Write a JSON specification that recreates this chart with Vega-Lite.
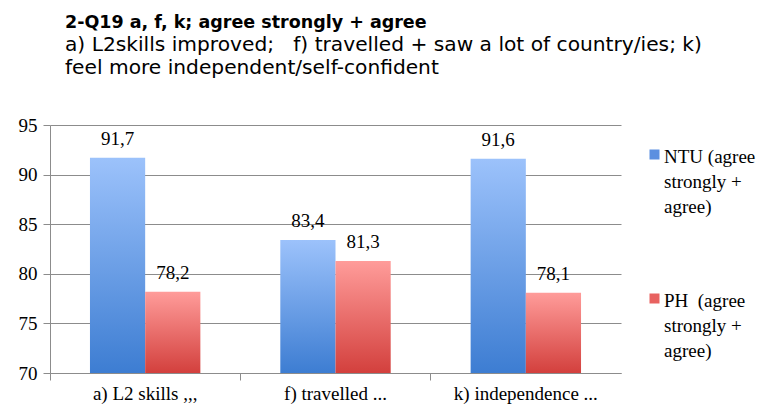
{
  "$schema": "https://vega.github.io/schema/vega-lite/v6.json",
  "autosize": {"type": "none"},
  "width": 571,
  "height": 248,
  "padding": {"left": 50, "top": 125, "right": 144, "bottom": 36},
  "title": {
    "text": "2-Q19 a, f, k; agree strongly + agree",
    "subtitle": ["a) L2skills improved;\u00a0\u00a0 f) travelled + saw a lot of country/ies; k)", "feel more independent/self-confident"],
    "anchor": "start",
    "frame": "group",
    "dx": 15,
    "offset": 38,
    "font": "DejaVu Sans",
    "fontSize": 17.5,
    "fontWeight": "bold",
    "color": "#000000",
    "subtitleFont": "DejaVu Sans",
    "subtitleFontSize": 20.2,
    "subtitleColor": "#000000",
    "subtitleLineHeight": 23,
    "subtitlePadding": 3
  },
  "data": {
    "values": [
      {"cat": "a) L2 skills ,,,", "series": "NTU", "value": 91.7},
      {"cat": "a) L2 skills ,,,", "series": "PH", "value": 78.2},
      {"cat": "f) travelled ...", "series": "NTU", "value": 83.4},
      {"cat": "f) travelled ...", "series": "PH", "value": 81.3},
      {"cat": "k) independence ...", "series": "NTU", "value": 91.6},
      {"cat": "k) independence ...", "series": "PH", "value": 78.1}
    ]
  },
  "encoding": {
    "x": {
      "field": "cat", "type": "nominal", "sort": null, "title": null,
      "scale": {"paddingInner": 0.42, "paddingOuter": 0.21},
      "axis": {
        "labelAngle": 0, "bandPosition": -0.362,
        "domainColor": "#8c8c8c", "tickColor": "#8c8c8c", "tickSize": 7,
        "labelFont": "Liberation Serif", "labelFontSize": 19, "labelColor": "#000000",
        "labelPadding": 4, "grid": false
      }
    },
    "xOffset": {"field": "series", "type": "nominal", "scale": {"domain": ["NTU", "PH"], "paddingInner": 0, "paddingOuter": 0}},
    "y": {
      "field": "value", "type": "quantitative", "title": null,
      "scale": {"domain": [70, 95], "zero": false, "nice": false},
      "axis": {
        "values": [70, 75, 80, 85, 90, 95],
        "domainColor": "#8c8c8c", "tickColor": "#8c8c8c", "tickSize": 7,
        "gridColor": "#8c8c8c", "gridOpacity": 1,
        "labelFont": "Liberation Serif", "labelFontSize": 19, "labelColor": "#000000",
        "labelPadding": 6
      }
    }
  },
  "layer": [
    {
      "transform": [{"filter": "datum.series == 'NTU'"}],
      "mark": {
        "type": "bar",
        "color": {"gradient": "linear", "x1": 0, "y1": 0, "x2": 0, "y2": 1,
          "stops": [{"offset": 0, "color": "#9cc2fb"}, {"offset": 1, "color": "#3d7dd2"}]}
      },
      "encoding": {"y2": {"datum": 70}}
    },
    {
      "transform": [{"filter": "datum.series == 'PH'"}],
      "mark": {
        "type": "bar",
        "color": {"gradient": "linear", "x1": 0, "y1": 0, "x2": 0, "y2": 1,
          "stops": [{"offset": 0, "color": "#ff9c9a"}, {"offset": 1, "color": "#d3403d"}]}
      },
      "encoding": {"y2": {"datum": 70}}
    },
    {
      "mark": {"type": "text", "baseline": "bottom", "dy": -9, "font": "Liberation Serif", "fontSize": 19, "color": "#000000"},
      "encoding": {"text": {"field": "value", "type": "quantitative", "format": ".1f"}}
    },
    {
      "mark": {"type": "point", "shape": "square", "filled": true, "opacity": 0},
      "encoding": {
        "color": {
          "field": "series", "type": "nominal",
          "scale": {"domain": ["NTU", "PH"], "range": ["#5b8fe0", "#e86260"]},
          "legend": {
            "title": null, "orient": "none", "legendX": 595, "legendY": 20,
            "symbolType": "square", "symbolSize": 100, "symbolOpacity": 1, "symbolStrokeWidth": 0,
            "labelFont": "Liberation Serif", "labelFontSize": 19, "labelColor": "#000000",
            "labelBaseline": "alphabetic", "labelOffset": 0, "labelLimit": 200,
            "rowPadding": 72, "padding": 0,
            "labelExpr": "datum.label == 'NTU' ? ['NTU (agree', 'strongly +', 'agree)'] : ['PH\u00a0 (agree', 'strongly +', 'agree)']",
            "encode": {"labels": {"update": {"lineHeight": {"value": 25}, "dy": {"value": 8}}}}
          }
        }
      }
    }
  ],
  "config": {
    "view": {"stroke": null},
    "locale": {"number": {"decimal": ",", "thousands": ".", "grouping": [3], "currency": ["", " €"]}}
  }
}
